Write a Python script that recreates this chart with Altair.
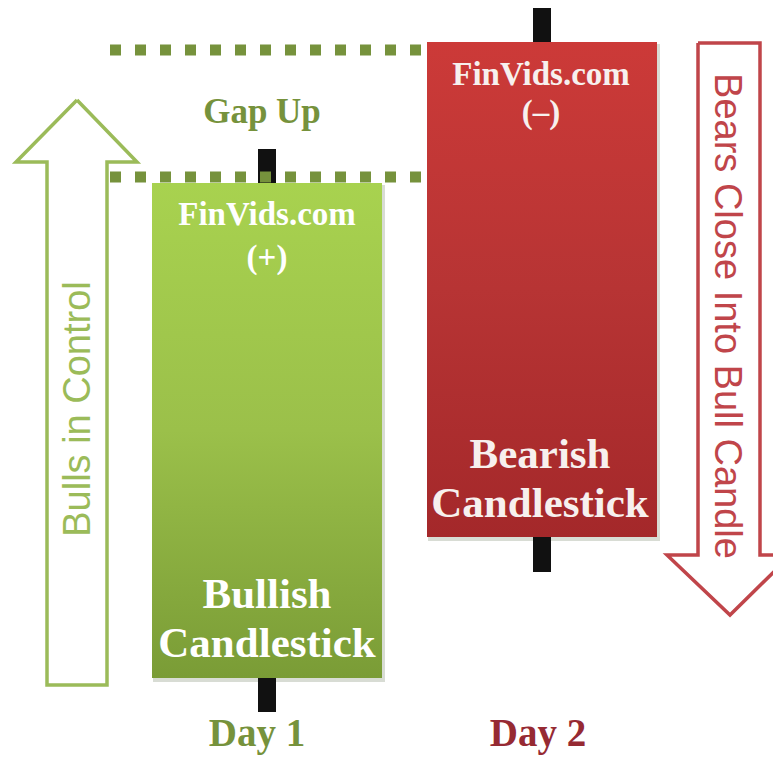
import altair as alt
import pandas as pd

# ---- data (price units; higher = up) ----
days = ["Day 1", "Day 2"]
day_x = [267, 542]
candle_half_width = [115, 115]
opens = [85, 721]
closes = [580, 226]
highs = [614, 756]
lows = [51, 191]

gap_levels = [713, 586]          # the two dotted gap lines
gap_x_start = [110, 110]
gap_x_end = [427, 427]

# arrow outlines (x, price) in drawing order
bull_arrow_x = [77, 137, 107, 107, 47, 47, 16, 77]
bull_arrow_y = [663, 601, 601, 78, 78, 601, 601, 663]
bear_arrow_x = [698, 760, 760, 791, 730, 667, 698, 698]
bear_arrow_y = [720, 720, 208, 208, 148, 208, 208, 720]

# text labels
label_text = ["Gap Up", "FinVids.com", "(+)", "Bullish", "Candlestick",
              "FinVids.com", "(–)", "Bearish", "Candlestick", "Day 1", "Day 2"]
label_x = [262, 267, 267, 267, 267, 541, 541, 540, 540, 257, 538]
label_y = [640, 538, 495, 155, 106, 678, 640, 295, 246, 17, 17]
label_size = [35, 33, 33, 43, 43, 33, 33, 43, 43, 39, 39]
label_color = ["#76923c", "white", "white", "white", "white",
               "#f7f0ee", "#f7f0ee", "#f7f0ee", "#f7f0ee", "#76923c", "#962a33"]

side_text = ["Bulls in Control", "Bears Close Into Bull Candle"]
side_x = [90, 715]
side_y = [354, 447]
side_angle = [270, 90]
side_color = ["#9bbb59", "#c0454a"]

X = alt.Scale(domain=[8, 773], nice=False, zero=False)
Y = alt.Scale(domain=[8, 755], nice=False, zero=False)
ax = None

candles = pd.DataFrame({
    "day": days, "x": day_x,
    "x0": [c - w for c, w in zip(day_x, candle_half_width)],
    "x1": [c + w for c, w in zip(day_x, candle_half_width)],
    "open": opens, "close": closes, "high": highs, "low": lows,
    "top": [max(o, c) for o, c in zip(opens, closes)],
    "bot": [min(o, c) for o, c in zip(opens, closes)],
})

def xenc(f):
    return alt.X(f, type="quantitative", scale=X, axis=ax)

def yenc(f):
    return alt.Y(f, type="quantitative", scale=Y, axis=ax)

base = alt.Chart(candles)

wicks = base.mark_rule(color="#111111", strokeWidth=18, strokeCap="butt").encode(
    x=xenc("x"), y=yenc("low"), y2="high")

shadow = base.transform_calculate(sx0="datum.x0+1", sx1="datum.x1+3", sb="datum.bot-4", st="datum.top-2").mark_rect(
    color="#d8dcd4").encode(x=xenc("sx0"), x2="sx1", y=yenc("sb"), y2="st")

green_grad = alt.Gradient(gradient="linear", x1=0, x2=0, y1=0, y2=1,
                          stops=[alt.GradientStop(color="#a8d24f", offset=0),
                                 alt.GradientStop(color="#9bc04a", offset=0.5),
                                 alt.GradientStop(color="#7a9c36", offset=1)])
red_grad = alt.Gradient(gradient="linear", x1=0, x2=0, y1=0, y2=1,
                        stops=[alt.GradientStop(color="#cc3a38", offset=0),
                               alt.GradientStop(color="#b73434", offset=0.5),
                               alt.GradientStop(color="#a4282a", offset=1)])

bull_body = base.transform_filter(alt.datum.close > alt.datum.open).mark_rect(fill=green_grad).encode(
    x=xenc("x0"), x2="x1", y=yenc("bot"), y2="top")
bear_body = base.transform_filter(alt.datum.close < alt.datum.open).mark_rect(fill=red_grad).encode(
    x=xenc("x0"), x2="x1", y=yenc("bot"), y2="top")

gaps = alt.Chart(pd.DataFrame({"lvl": gap_levels, "xs": gap_x_start, "xe": gap_x_end})).mark_rule(
    color="#76923c", strokeWidth=11, strokeDash=[11, 14], strokeCap="butt").encode(
    x=xenc("xs"), x2="xe", y=yenc("lvl"))

bull_arrow = alt.Chart(pd.DataFrame({"x": bull_arrow_x, "y": bull_arrow_y,
                                     "o": list(range(len(bull_arrow_x)))})).mark_line(
    color="#9bbb59", strokeWidth=3.5, strokeJoin="miter").encode(
    x=xenc("x"), y=yenc("y"), order="o:Q")
bear_arrow = alt.Chart(pd.DataFrame({"x": bear_arrow_x, "y": bear_arrow_y,
                                     "o": list(range(len(bear_arrow_x)))})).mark_line(
    color="#c0454a", strokeWidth=3.5, strokeJoin="miter", clip=True).encode(
    x=xenc("x"), y=yenc("y"), order="o:Q")

labels = alt.Chart(pd.DataFrame({"t": label_text, "x": label_x, "y": label_y,
                                 "s": label_size, "c": label_color})).mark_text(
    font="Liberation Serif", fontWeight="bold", align="center", baseline="alphabetic").encode(
    x=xenc("x"), y=yenc("y"), text="t:N",
    size=alt.Size("s:Q", scale=None, legend=None),
    color=alt.Color("c:N", scale=None, legend=None))

side = alt.Chart(pd.DataFrame({"t": side_text, "x": side_x, "y": side_y,
                               "a": side_angle, "c": side_color})).mark_text(
    font="Liberation Sans", fontSize=38, align="center", baseline="alphabetic").encode(
    x=xenc("x"), y=yenc("y"), text="t:N",
    angle=alt.Angle("a:Q", scale=None),
    color=alt.Color("c:N", scale=None, legend=None))

chart = alt.layer(bull_arrow, bear_arrow, shadow, wicks, bull_body, bear_body, gaps, labels, side).properties(
    width=765, height=747, padding=0,
    autosize=alt.AutoSizeParams(type="none"),
    background="white",
).configure_view(stroke=None)

chart.save("out.html", embed_options={"renderer": "svg", "actions": False})
